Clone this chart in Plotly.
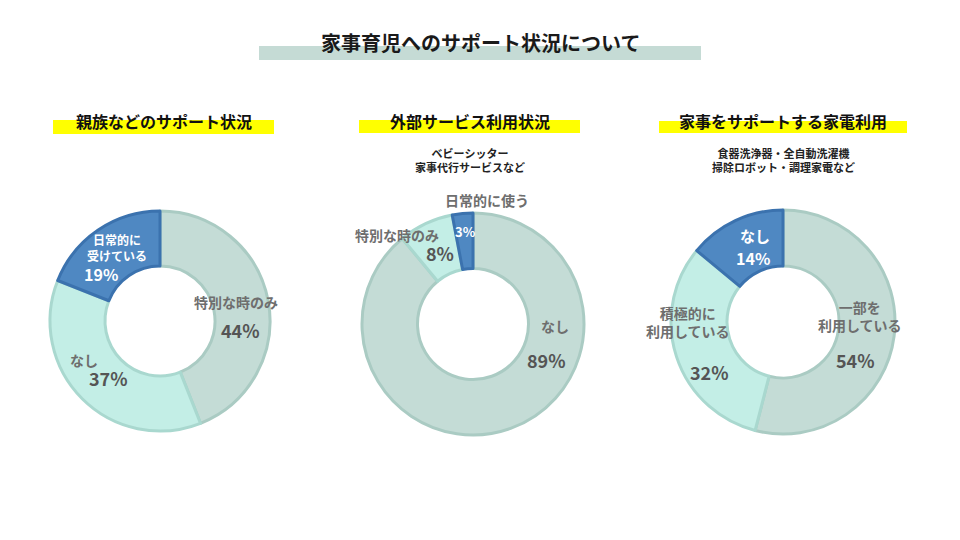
import plotly.graph_objects as go

W, H = 960, 540
OX, OY = 8, 8  # page body margin offset

title = "家事育児へのサポート状況について"

panel_titles = ["親族などのサポート状況", "外部サービス利用状況", "家事をサポートする家電利用"]
panel_notes = ["", "ベビーシッター<br>家事代行サービスなど", "食器洗浄器・全自動洗濯機<br>掃除ロボット・調理家電など"]

labels1 = ["特別な時のみ", "なし", "日常的に受けている"]
values1 = [44, 37, 19]
labels2 = ["なし", "特別な時のみ", "日常的に使う"]
values2 = [89, 8, 3]
labels3 = ["一部を利用している", "積極的に利用している", "なし"]
values3 = [54, 32, 14]

fill_colors = ["#c4dcd6", "#c3eee6", "#4f88c2"]
line_colors = ["#aacbc3", "#a9d8cf", "#3b72ae"]

# pie geometry in pixels (cx, cy, r)
pies = [(160, 321, 110), (473, 324, 111), (783, 322, 112)]
panel_cx = [164, 470, 783]
bars = [(53, 274, 120, 134), (359, 580, 120, 133), (659, 907, 121, 133)]

def px(x):
    return (x - OX) / W

def py(y):
    return 1 - (y - OY) / H

fig = go.Figure()
for (lab, val), (cx, cy, r) in zip([(labels1, values1), (labels2, values2), (labels3, values3)], pies):
    fig.add_trace(go.Pie(
        labels=lab, values=val, hole=0.5, sort=False, direction="clockwise", rotation=0,
        textinfo="none", hoverinfo="skip", showlegend=False,
        marker=dict(colors=fill_colors, line=dict(color=line_colors, width=3)),
        domain=dict(x=[px(cx - r), px(cx + r)], y=[py(cy + r), py(cy - r)]),
    ))

shapes = []
# title band
shapes.append(dict(type="rect", xref="paper", yref="paper", x0=px(259), x1=px(701), y0=py(60), y1=py(46),
                   fillcolor="#c5dbd5", line=dict(width=0), layer="below"))
for (x0, x1, y0, y1) in bars:
    shapes.append(dict(type="rect", xref="paper", yref="paper", x0=px(x0), x1=px(x1), y0=py(y1), y1=py(y0),
                       fillcolor="#ffff00", line=dict(width=0), layer="below"))

FONT = "Noto Sans CJK JP"
ann = []
def add(text, x, y, size, color, bold=True):
    ann.append(dict(text=f"<b>{text}</b>" if bold else text, x=px(x), y=py(y), xref="paper", yref="paper",
                    showarrow=False, xanchor="center", yanchor="middle",
                    font=dict(family=FONT, size=size, color=color)))

add(title, 480, 43, 20, "#1a1a1a")
for t, cx in zip(panel_titles, panel_cx):
    add(t, cx, 121, 16, "#111111")
for n, cx in zip(panel_notes, panel_cx):
    if n:
        add(n, cx, 160, 11, "#222222")

G = "#6e6e6e"
P = "#555555"
# donut 1
add("日常的に<br>受けている", 117, 247, 12, "#ffffff")
add(f"{values1[2]}%", 101, 274, 16, "#ffffff")
add(labels1[0], 236, 302, 14, G)
add(f"{values1[0]}%", 240, 330, 18, P)
add(labels1[1], 84, 360, 14, G)
add(f"{values1[1]}%", 108, 378, 18, P)
# donut 2
add(labels2[2], 487, 200, 14, G)
add(f"{values2[2]}%", 465, 231, 13, "#ffffff")
add(labels2[1], 397, 235, 14, G)
add(f"{values2[1]}%", 440, 253, 18, P)
add(labels2[0], 555, 326, 14, G)
add(f"{values2[0]}%", 546, 360, 18, P)
# donut 3
add(labels3[2], 755, 235, 15, "#ffffff")
add(f"{values3[2]}%", 753, 258, 16, "#ffffff")
add("一部を<br>利用している", 860, 316, 14, G)
add(f"{values3[0]}%", 855, 360, 18, P)
add("積極的に<br>利用している", 688, 322, 14, G)
add(f"{values3[1]}%", 709, 372, 18, P)

fig.update_layout(width=W, height=H, margin=dict(l=0, r=0, t=0, b=0),
                  paper_bgcolor="#ffffff", plot_bgcolor="#ffffff",
                  shapes=shapes, annotations=ann, font=dict(family=FONT))
fig.write_html("out.html")
